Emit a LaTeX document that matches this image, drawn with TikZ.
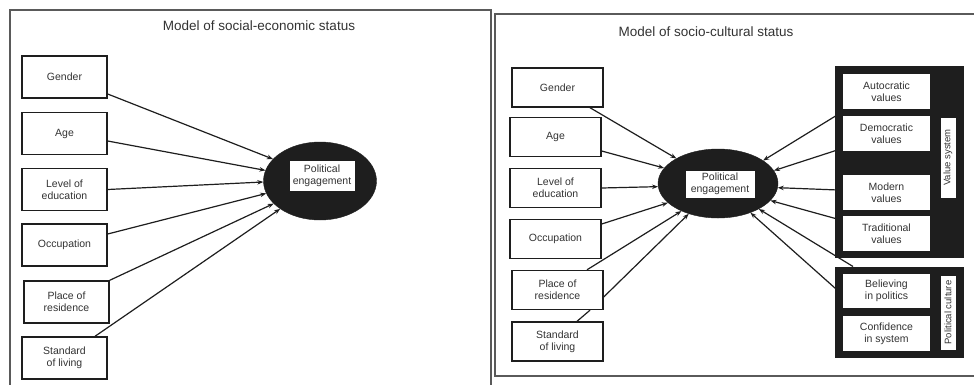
\documentclass[tikz,border=0pt]{standalone}
\usepackage{fontspec}
\setmainfont{Liberation Sans}
\usetikzlibrary{arrows.meta,shapes.geometric,calc}
\definecolor{ink}{HTML}{1E1E1E}
\definecolor{txt}{HTML}{333333}
\definecolor{framec}{HTML}{5A5A5A}
\begin{document}
\begin{tikzpicture}[x=1pt,y=-1pt,
  box/.style={draw=ink,line width=1.4pt,fill=white,align=center,font=\fontsize{10.5}{12}\selectfont,text=txt,inner sep=1pt},
  lbox/.style={box,minimum width=85pt,minimum height=42pt},
  rbox/.style={box,minimum width=91pt,minimum height=39pt},
  vbox/.style={box,minimum width=89pt},
  blk/.style={fill=ink,draw=ink,line width=1pt,inner sep=0pt},
  lab/.style={draw=ink,line width=0.8pt,fill=white,rotate=90,font=\fontsize{9.5}{10}\selectfont,text=txt,inner sep=1pt,minimum height=16pt},
  pe/.style={ellipse,fill=ink,draw=ink,inner sep=0pt},
  arr/.style={draw=ink,line width=1.2pt,-{Stealth[length=6pt,width=4.5pt]}},
  plain/.style={draw=ink,line width=1.2pt},
  frm/.style={draw=framec,line width=1.6pt},
  ttl/.style={font=\fontsize{13.5}{15}\selectfont,text=txt}]
\useasboundingbox (0,0) rectangle (974,384);
\fill[white] (0,0) rectangle (974,384);
% frames
\draw[frm] (10,10) rectangle (491,400);
\draw[frm] (495,14) rectangle (990,376);

% ---------- left panel ----------
\node[ttl] (lt) at (259,26) {Model of social-economic status};
\node[lbox] (lg) at (64.5,77) {Gender};
\node[lbox] (la) at (64.5,133.5) {Age};
\node[lbox] (ll) at (64.5,189.5) {Level of\\education};
\node[lbox] (lo) at (64.5,245) {Occupation};
\node[lbox] (lp) at (66.5,302) {Place of\\residence};
\node[lbox] (ls) at (64.5,358) {Standard\\of living};
\node[pe,minimum width=113pt,minimum height=78pt] (lpe) at (320,181) {};
\node[box,minimum width=66pt,minimum height=31pt,line width=0.8pt] (lpi) at (322,175.5) {Political\\engagement};

\draw[arr] ([yshift=-17pt]lg.east) -- (lpe.155);
\draw[arr] ([yshift=-7.5pt]la.east) -- (lpe.169);
\draw[arr] (ll.east) -- (lpe.181);
\draw[arr] ([yshift=11pt]lo.east) -- (lpe.193);
\draw[arr] (lp.north east) -- (lpe.206);
\draw[arr] ([xshift=30.5pt]ls.north) -- (lpe.215);

% ---------- right panel ----------
\node[ttl] (rt) at (706,32) {Model of socio-cultural status};
\node[rbox] (rg) at (557.5,87.5) {Gender};
\node[rbox] (ra) at (555.5,137) {Age};
\node[rbox] (rl) at (555.5,188) {Level of\\education};
\node[rbox] (ro) at (555.5,239) {Occupation};
\node[rbox] (rp) at (557.5,290) {Place of\\residence};
\node[rbox] (rs) at (557.5,341.5) {Standard\\of living};
\node[pe,minimum width=120pt,minimum height=69pt] (rpe) at (718,183.5) {};
\node[box,minimum width=70pt,minimum height=28pt,line width=0.8pt] (rpi) at (720,184) {Political\\engagement};

\node[blk,minimum width=128pt,minimum height=191pt] (vs) at (899,161.5) {};
\node[blk,minimum width=128pt,minimum height=90pt] (pc) at (899,312) {};
\node[vbox,minimum height=37pt] (au) at (886.5,91.5) {Autocratic\\values};
\node[vbox,minimum height=37pt] (de) at (886.5,133.5) {Democratic\\values};
\node[vbox,minimum height=37pt] (mo) at (886.5,192.5) {Modern\\values};
\node[vbox,minimum height=37pt] (tr) at (886.5,233.5) {Traditional\\values};
\node[vbox,minimum height=36pt] (be) at (886.5,291) {Believing\\in politics};
\node[vbox,minimum height=37pt] (co) at (886.5,333.5) {Confidence\\in system};
\node[lab,minimum width=81pt] (vl) at (948,157.5) {Value system};
\node[lab,minimum width=75pt] (pl) at (948,312.5) {Political culture};

\draw[arr] ([xshift=32.5pt]rg.south) -- (rpe.149);
\draw[arr] ([yshift=-14pt]ra.east) -- (rpe.164);
\draw[arr] (rl.east) -- (rpe.183);
\draw[arr] ([yshift=15pt]ro.east) -- (rpe.201);
\draw[arr] ([xshift=29.5pt]rp.north) -- (rpe.217);
\draw[arr] ([yshift=-7pt]rp.east) -- (rpe.226);
\draw[plain] ([xshift=19.5pt]rs.north) -- ([xshift=32.5pt]rp.south);

\draw[arr] ([xshift=-3pt]de.north west) -- (rpe.27);
\draw[arr] ([xshift=-3pt,yshift=3pt]de.south west) -- (rpe.13);
\draw[arr] ([xshift=-3pt,yshift=2.5pt]mo.west) -- (rpe.-4);
\draw[arr] ([xshift=-3pt,yshift=-5pt]tr.north west) -- (rpe.-18);
\draw[arr] ([xshift=-46pt]pc.north) -- (rpe.-32);
\draw[arr] ([xshift=-3pt]be.west) -- (rpe.-42);
\end{tikzpicture}
\end{document}
